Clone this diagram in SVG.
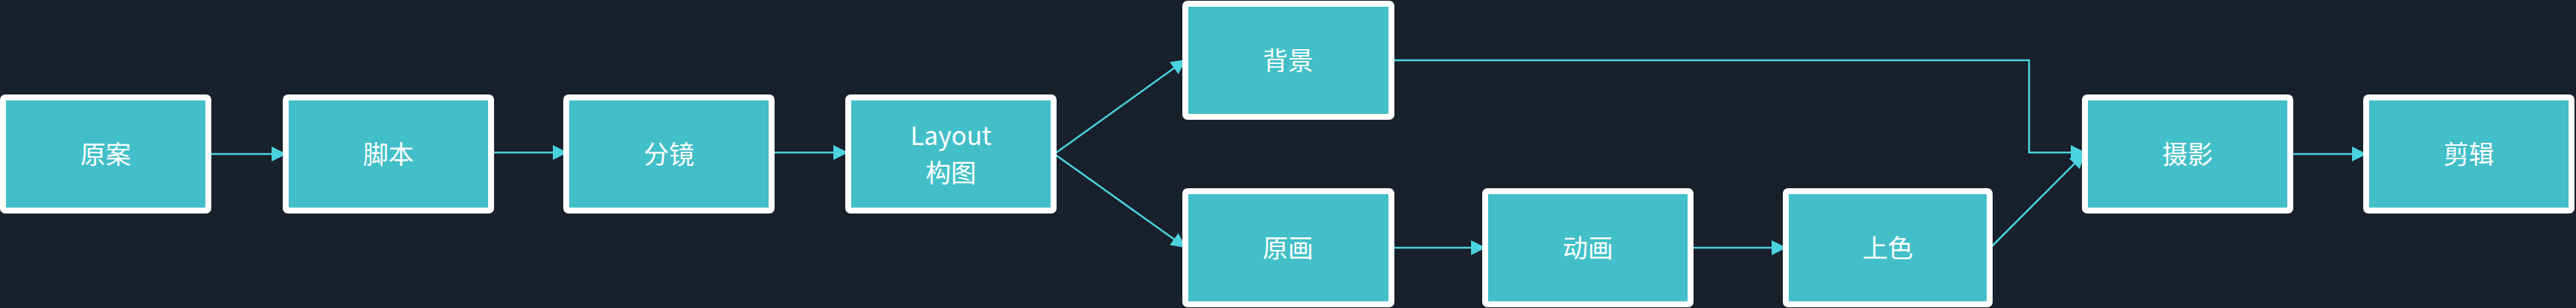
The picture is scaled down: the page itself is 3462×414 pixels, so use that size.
<svg xmlns="http://www.w3.org/2000/svg" width="3462" height="414" viewBox="0 0 3462 414">
<style>
.bg{fill:#18202c}
.box{fill:#42bfc8;stroke:#ffffff;stroke-width:8}
.lbl{fill:#ffffff;font-family:"Noto Sans CJK SC","Noto Sans",sans-serif;font-size:34px;text-anchor:middle}
.edge{fill:none;stroke:#4bd2df;stroke-width:2.5}
</style>
<defs>
<marker id="arr" markerUnits="userSpaceOnUse" markerWidth="20" markerHeight="20" refX="20" refY="10" orient="auto">
<path d="M0,0 L20,10 L0,20 z" fill="#4bd2df"/>
</marker>
</defs>
<rect class="bg" x="0" y="0" width="3462" height="414"/>
<g id="connectors">
<path class="edge" d="M282,207 L385,207" marker-end="url(#arr)"/>
<path class="edge" d="M660,205 L763,205" marker-end="url(#arr)"/>
<path class="edge" d="M1039,205 L1140,205" marker-end="url(#arr)"/>
<path class="edge" d="M1417,207 L1594,80" marker-end="url(#arr)"/>
<path class="edge" d="M1417,207 L1594,333" marker-end="url(#arr)"/>
<path class="edge" d="M1872,81 L2727,81 L2727,205 L2803,205" marker-end="url(#arr)"/>
<path class="edge" d="M1872,333 L1997,333" marker-end="url(#arr)"/>
<path class="edge" d="M2274,333 L2401,333" marker-end="url(#arr)"/>
<path class="edge" d="M2675,333 L2802,206" marker-end="url(#arr)"/>
<path class="edge" d="M3079,207 L3181,207" marker-end="url(#arr)"/>
</g>
<g id="n-yuanan"><rect class="box" x="4" y="131" width="276" height="152" rx="3"/><text class="lbl" x="142" y="220">原案</text></g>
<g id="n-jiaoben"><rect class="box" x="384" y="131" width="276" height="152" rx="3"/><text class="lbl" x="522" y="220">脚本</text></g>
<g id="n-fenjing"><rect class="box" x="761" y="131" width="276" height="152" rx="3"/><text class="lbl" x="899" y="220">分镜</text></g>
<g id="n-layout"><rect class="box" x="1140" y="131" width="276" height="152" rx="3"/><text class="lbl" x="1278" y="195">Layout</text><text class="lbl" x="1278" y="245">构图</text></g>
<g id="n-beijing"><rect class="box" x="1593" y="5" width="277" height="152" rx="3"/><text class="lbl" x="1731" y="94">背景</text></g>
<g id="n-yuanhua"><rect class="box" x="1593" y="257" width="277" height="152" rx="3"/><text class="lbl" x="1731" y="346">原画</text></g>
<g id="n-donghua"><rect class="box" x="1996" y="257" width="276" height="152" rx="3"/><text class="lbl" x="2134" y="346">动画</text></g>
<g id="n-shangse"><rect class="box" x="2400" y="257" width="274" height="152" rx="3"/><text class="lbl" x="2537" y="346">上色</text></g>
<g id="n-sheying"><rect class="box" x="2802" y="131" width="276" height="152" rx="3"/><text class="lbl" x="2940" y="220">摄影</text></g>
<g id="n-jianji"><rect class="box" x="3180" y="131" width="276" height="152" rx="3"/><text class="lbl" x="3318" y="220">剪辑</text></g>
</svg>
